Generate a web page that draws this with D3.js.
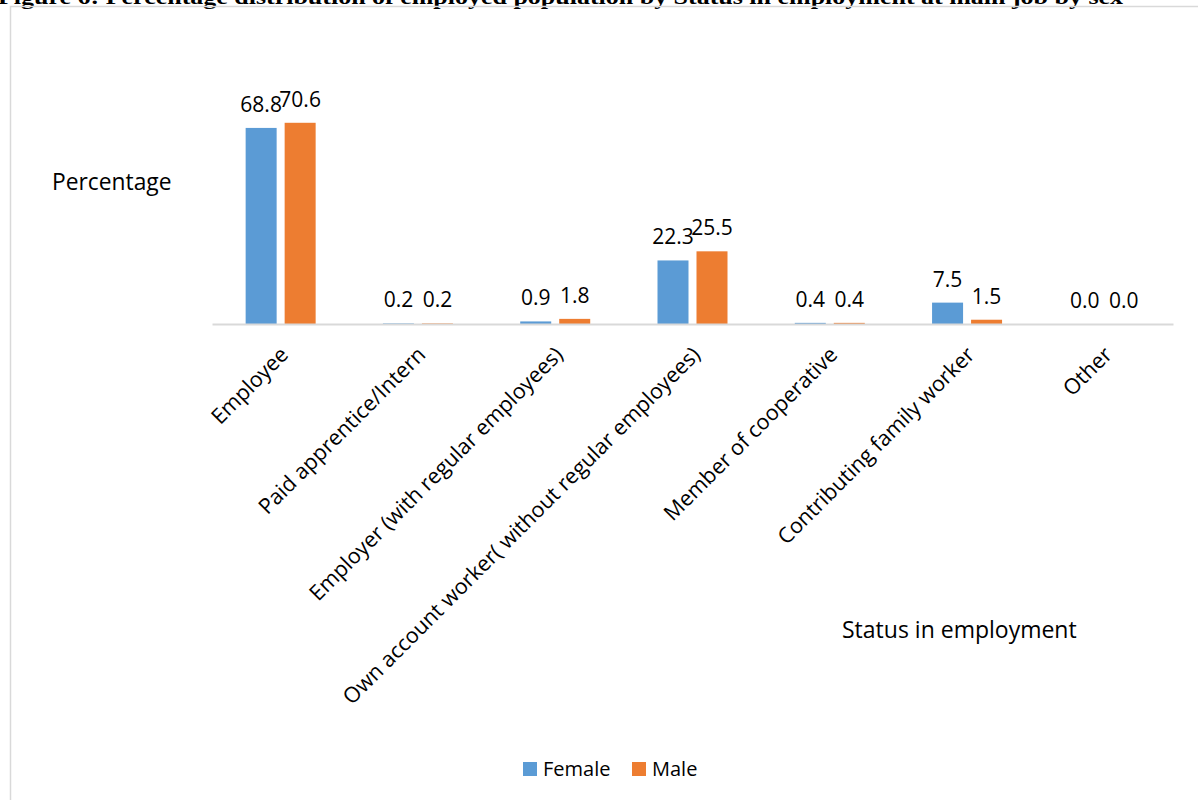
<!DOCTYPE html>
<html><head><meta charset="utf-8">
<script src="https://cdn.jsdelivr.net/npm/d3@7"></script>
<style>body{margin:0;background:#fff}svg{display:block}</style>
</head><body>
<script>
const categories = ["Employee","Paid apprentice/Intern","Employer (with regular employees)","Own account worker( without regular employees)","Member of cooperative","Contributing family worker","Other"];
const female = [68.8,0.2,0.9,22.3,0.4,7.5,0.0];
const male = [70.6,0.2,1.8,25.5,0.4,1.5,0.0];
const seriesNames = ["Female","Male"];
const colors = ["#5b9bd5","#ed7d31"];
const yDomain = [0,80];

const W=1198,H=800;
const svg=d3.select("body").append("svg").attr("width",W).attr("height",H);
const font="'Open Sans', 'Noto Sans', sans-serif";

svg.append("text").attr("x",-2).attr("y",4).attr("font-family","'Liberation Serif', serif")
  .attr("font-weight","bold").attr("font-size",22).attr("textLength",1125).attr("lengthAdjust","spacingAndGlyphs")
  .attr("fill","#000").text("Figure 6: Percentage distribution of employed population by Status in employment at main job by sex");

svg.append("rect").attr("x",10.5).attr("y",6.5).attr("width",1210).attr("height",820).attr("fill","none").attr("stroke","#d9d9d9").attr("stroke-width",1.5);

const x0=d3.scaleBand().domain(categories).range([212,1173]);
const y=d3.scaleLinear().domain(yDomain).range([324,96]);
const bw=31, gap=8;
const data=categories.map((c,i)=>({c,vals:[female[i],male[i]]}));

const g=svg.append("g");
data.forEach(d=>{
  const cx=x0(d.c)+x0.bandwidth()/2;
  d.vals.forEach((v,j)=>{
    const bx = j===0 ? cx-gap/2-bw : cx+gap/2;
    g.append("rect").attr("x",bx).attr("y",y(v)).attr("width",bw).attr("height",y(0)-y(v)).attr("fill",colors[j]);
    g.append("text").attr("x",bx+bw/2).attr("y",y(v)-16).attr("text-anchor","middle")
      .attr("font-family",font).attr("font-size",21).attr("fill","#000").text(v.toFixed(1));
  });
});

// axis
const xAxis=d3.axisBottom(x0).tickSize(0).tickPadding(0);
const ax=svg.append("g").attr("transform","translate(0,324)").call(xAxis);
ax.select(".domain").attr("stroke","#d9d9d9").attr("stroke-width",2);
ax.selectAll(".tick text").attr("font-family",font).attr("font-size",21.5).attr("fill","#000")
  .attr("text-anchor","end").attr("dy",0).attr("y",0)
  .attr("transform","translate(9,32) rotate(-45)");

svg.append("text").attr("x",52).attr("y",190).attr("font-family",font).attr("font-size",22.8).attr("fill","#000").text("Percentage");
svg.append("text").attr("x",842).attr("y",638).attr("font-family",font).attr("font-size",23).attr("fill","#000").text("Status in employment");

// legend
const lg=svg.append("g");
const lx=[523,632];
seriesNames.forEach((n,i)=>{
  lg.append("rect").attr("x",lx[i]).attr("y",762).attr("width",14).attr("height",14).attr("fill",colors[i]);
  lg.append("text").attr("x",lx[i]+20).attr("y",776).attr("font-family",font).attr("font-size",20).attr("fill","#000").text(n);
});
</script>
</body></html>
